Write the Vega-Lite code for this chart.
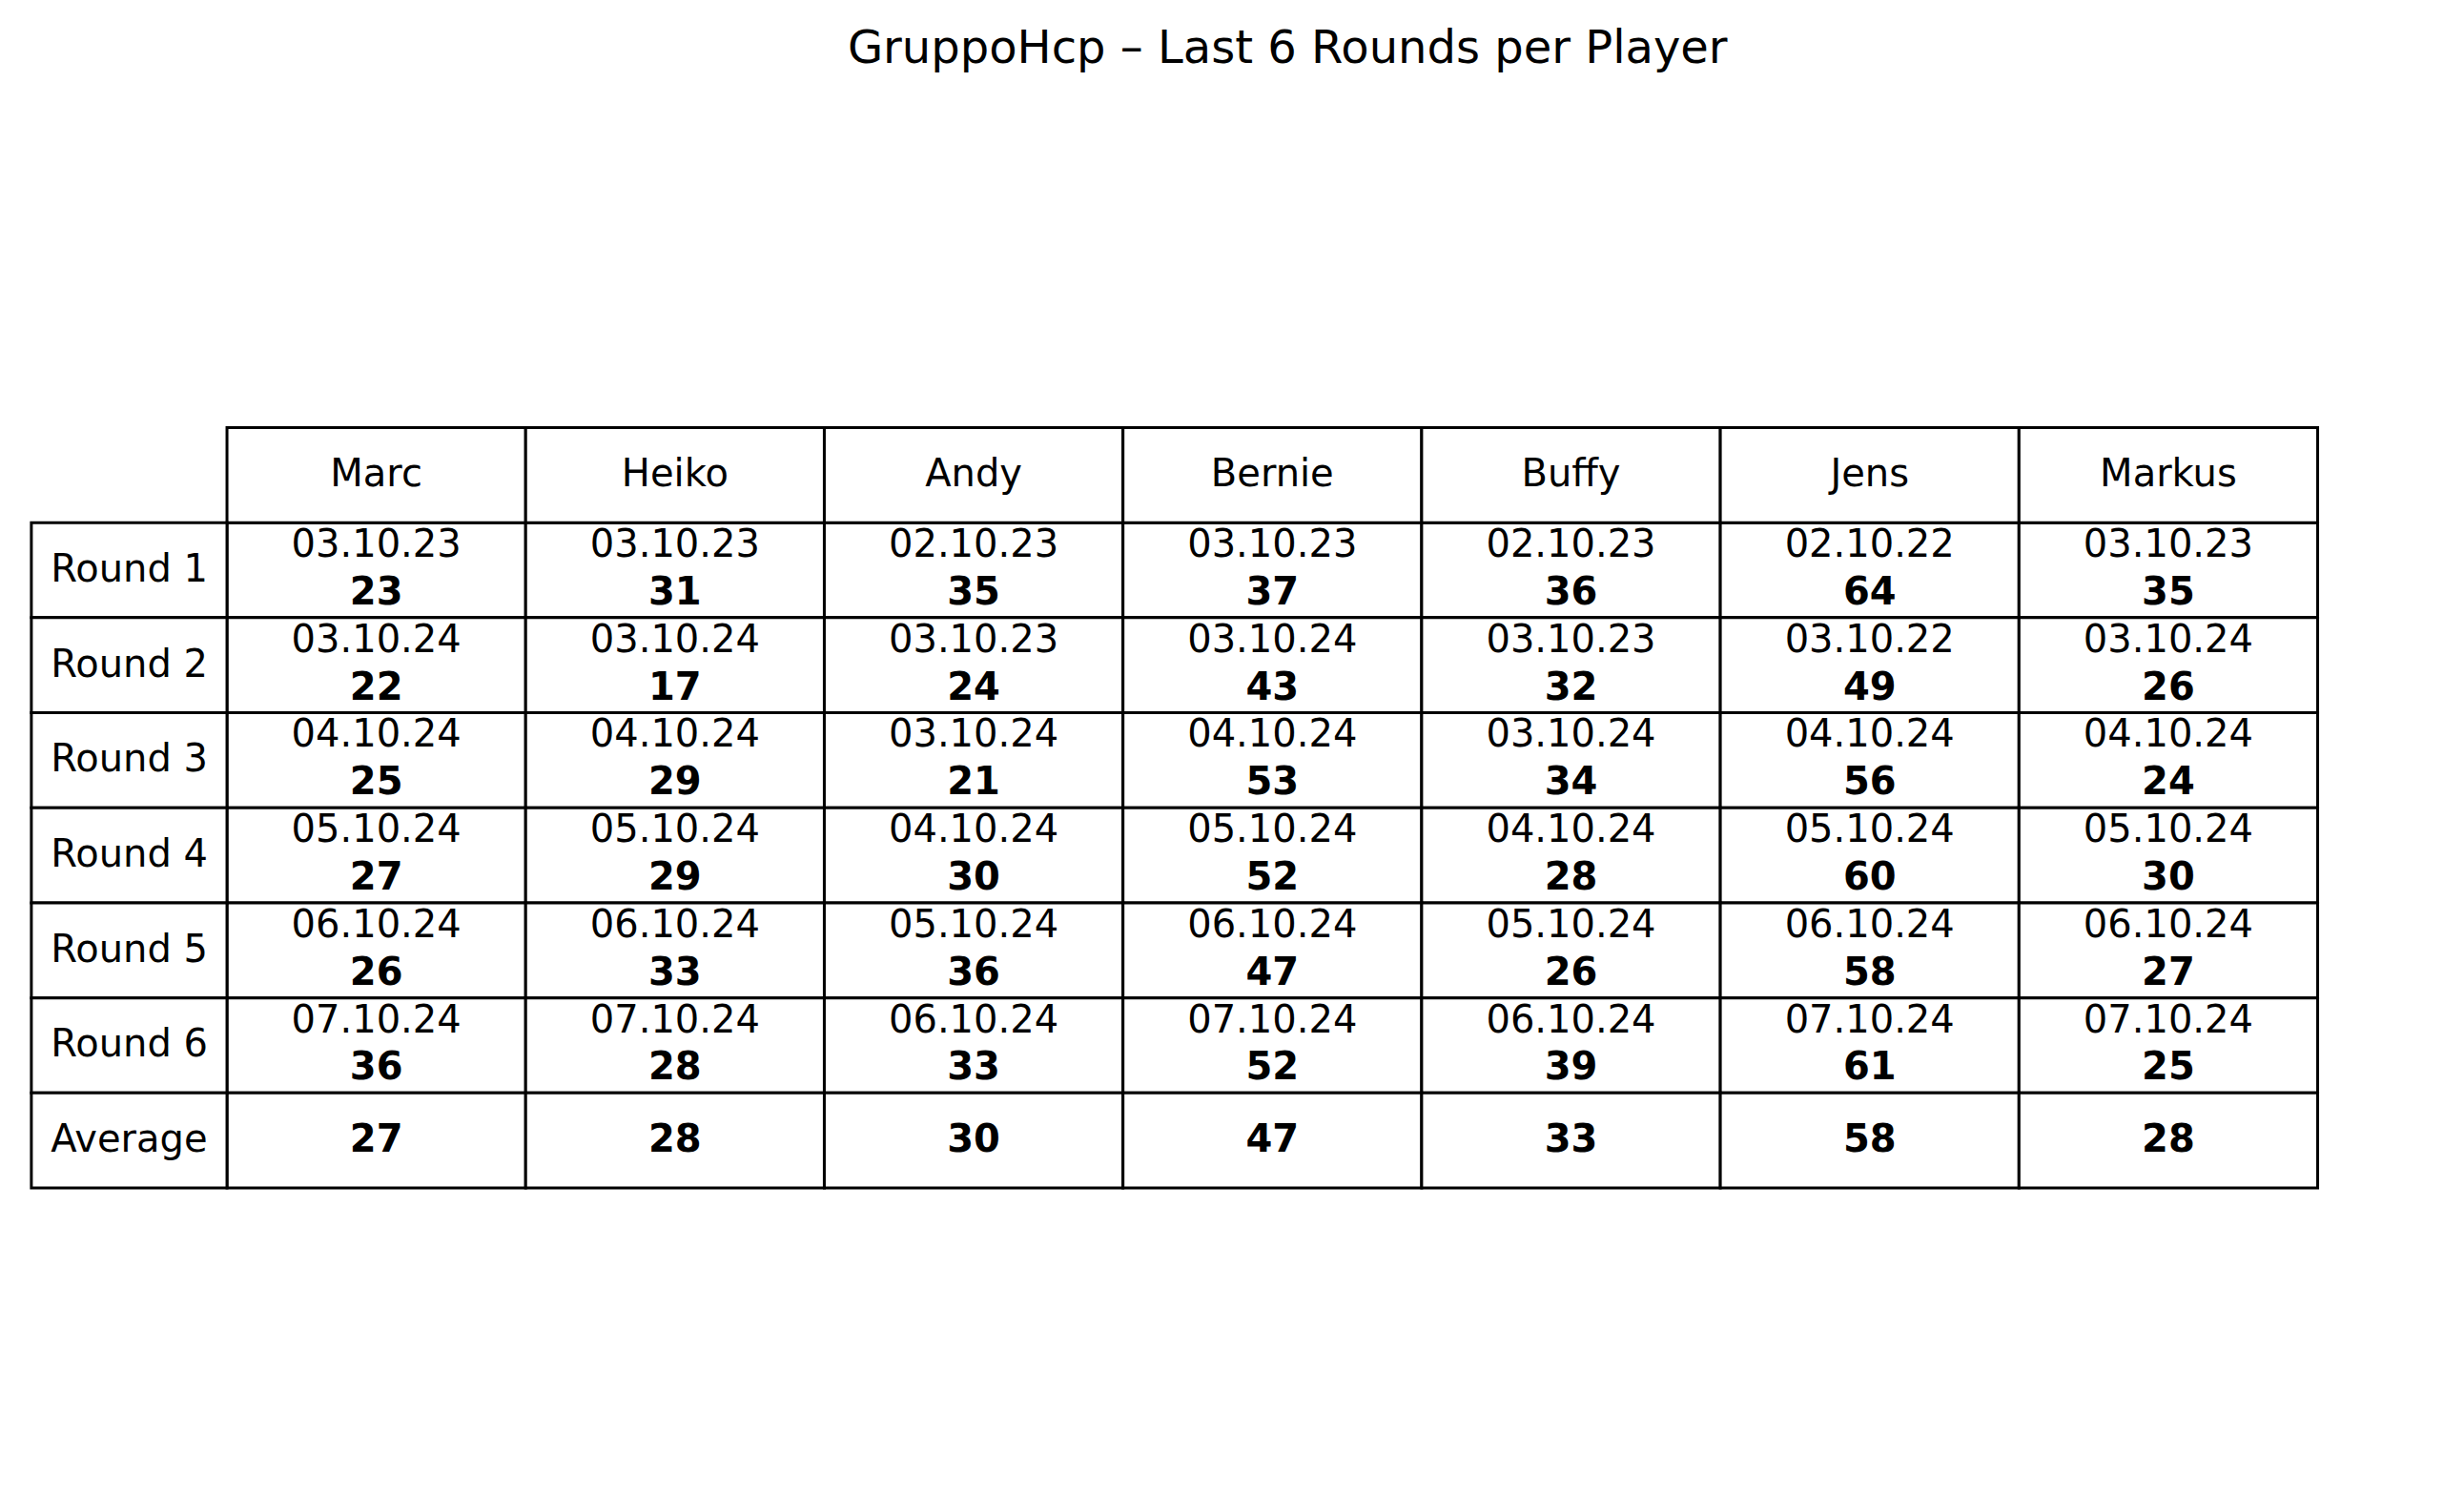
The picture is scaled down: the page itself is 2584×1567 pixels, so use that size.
{
  "$schema": "https://vega.github.io/schema/vega-lite/v6.json",
  "width": 2584,
  "height": 1567,
  "padding": 0,
  "autosize": {"type": "fit", "contains": "padding"},
  "background": "white",
  "config": {"view": {"stroke": null}, "font": "DejaVu Sans"},
  "datasets": {
    "scores": [
      {"player": "Marc", "col": 0, "row": 1, "date": "03.10.23", "score": 23},
      {"player": "Heiko", "col": 1, "row": 1, "date": "03.10.23", "score": 31},
      {"player": "Andy", "col": 2, "row": 1, "date": "02.10.23", "score": 35},
      {"player": "Bernie", "col": 3, "row": 1, "date": "03.10.23", "score": 37},
      {"player": "Buffy", "col": 4, "row": 1, "date": "02.10.23", "score": 36},
      {"player": "Jens", "col": 5, "row": 1, "date": "02.10.22", "score": 64},
      {"player": "Markus", "col": 6, "row": 1, "date": "03.10.23", "score": 35},
      {"player": "Marc", "col": 0, "row": 2, "date": "03.10.24", "score": 22},
      {"player": "Heiko", "col": 1, "row": 2, "date": "03.10.24", "score": 17},
      {"player": "Andy", "col": 2, "row": 2, "date": "03.10.23", "score": 24},
      {"player": "Bernie", "col": 3, "row": 2, "date": "03.10.24", "score": 43},
      {"player": "Buffy", "col": 4, "row": 2, "date": "03.10.23", "score": 32},
      {"player": "Jens", "col": 5, "row": 2, "date": "03.10.22", "score": 49},
      {"player": "Markus", "col": 6, "row": 2, "date": "03.10.24", "score": 26},
      {"player": "Marc", "col": 0, "row": 3, "date": "04.10.24", "score": 25},
      {"player": "Heiko", "col": 1, "row": 3, "date": "04.10.24", "score": 29},
      {"player": "Andy", "col": 2, "row": 3, "date": "03.10.24", "score": 21},
      {"player": "Bernie", "col": 3, "row": 3, "date": "04.10.24", "score": 53},
      {"player": "Buffy", "col": 4, "row": 3, "date": "03.10.24", "score": 34},
      {"player": "Jens", "col": 5, "row": 3, "date": "04.10.24", "score": 56},
      {"player": "Markus", "col": 6, "row": 3, "date": "04.10.24", "score": 24},
      {"player": "Marc", "col": 0, "row": 4, "date": "05.10.24", "score": 27},
      {"player": "Heiko", "col": 1, "row": 4, "date": "05.10.24", "score": 29},
      {"player": "Andy", "col": 2, "row": 4, "date": "04.10.24", "score": 30},
      {"player": "Bernie", "col": 3, "row": 4, "date": "05.10.24", "score": 52},
      {"player": "Buffy", "col": 4, "row": 4, "date": "04.10.24", "score": 28},
      {"player": "Jens", "col": 5, "row": 4, "date": "05.10.24", "score": 60},
      {"player": "Markus", "col": 6, "row": 4, "date": "05.10.24", "score": 30},
      {"player": "Marc", "col": 0, "row": 5, "date": "06.10.24", "score": 26},
      {"player": "Heiko", "col": 1, "row": 5, "date": "06.10.24", "score": 33},
      {"player": "Andy", "col": 2, "row": 5, "date": "05.10.24", "score": 36},
      {"player": "Bernie", "col": 3, "row": 5, "date": "06.10.24", "score": 47},
      {"player": "Buffy", "col": 4, "row": 5, "date": "05.10.24", "score": 26},
      {"player": "Jens", "col": 5, "row": 5, "date": "06.10.24", "score": 58},
      {"player": "Markus", "col": 6, "row": 5, "date": "06.10.24", "score": 27},
      {"player": "Marc", "col": 0, "row": 6, "date": "07.10.24", "score": 36},
      {"player": "Heiko", "col": 1, "row": 6, "date": "07.10.24", "score": 28},
      {"player": "Andy", "col": 2, "row": 6, "date": "06.10.24", "score": 33},
      {"player": "Bernie", "col": 3, "row": 6, "date": "07.10.24", "score": 52},
      {"player": "Buffy", "col": 4, "row": 6, "date": "06.10.24", "score": 39},
      {"player": "Jens", "col": 5, "row": 6, "date": "07.10.24", "score": 61},
      {"player": "Markus", "col": 6, "row": 6, "date": "07.10.24", "score": 25},
      {"player": "Marc", "col": 0, "row": 7, "date": "", "score": 27},
      {"player": "Heiko", "col": 1, "row": 7, "date": "", "score": 28},
      {"player": "Andy", "col": 2, "row": 7, "date": "", "score": 30},
      {"player": "Bernie", "col": 3, "row": 7, "date": "", "score": 47},
      {"player": "Buffy", "col": 4, "row": 7, "date": "", "score": 33},
      {"player": "Jens", "col": 5, "row": 7, "date": "", "score": 58},
      {"player": "Markus", "col": 6, "row": 7, "date": "", "score": 28}
    ],
    "rowLabels": [
      {"label": "Round 1", "row": 1},
      {"label": "Round 2", "row": 2},
      {"label": "Round 3", "row": 3},
      {"label": "Round 4", "row": 4},
      {"label": "Round 5", "row": 5},
      {"label": "Round 6", "row": 6},
      {"label": "Average", "row": 7}
    ],
    "headers": [
      {"player": "Marc", "col": 0},
      {"player": "Heiko", "col": 1},
      {"player": "Andy", "col": 2},
      {"player": "Bernie", "col": 3},
      {"player": "Buffy", "col": 4},
      {"player": "Jens", "col": 5},
      {"player": "Markus", "col": 6}
    ],
    "titles": [{"text": "GruppoHcp – Last 6 Rounds per Player", "cx": 3.551, "cy": -3.98}]
  },
  "layer": [
    {
      "data": {"name": "scores"},
      "transform": [
        {"calculate": "datum.col + 1", "as": "col2"},
        {"calculate": "datum.row + 1", "as": "row2"}
      ],
      "mark": {"type": "rect", "fill": "white", "stroke": "black", "strokeWidth": 3},
      "encoding": {
        "x": {"field": "col", "type": "quantitative", "scale": {"domain": [-0.76, 7.49], "nice": false, "zero": false}, "axis": null},
        "x2": {"field": "col2"},
        "y": {"field": "row", "type": "quantitative", "scale": {"domain": [-4.499, 11.22], "nice": false, "zero": false, "reverse": true}, "axis": null},
        "y2": {"field": "row2"}
      }
    },
    {
      "data": {"name": "headers"},
      "transform": [
        {"calculate": "datum.col + 1", "as": "col2"},
        {"calculate": "0", "as": "r0"},
        {"calculate": "1", "as": "r1"}
      ],
      "mark": {"type": "rect", "fill": "white", "stroke": "black", "strokeWidth": 3},
      "encoding": {
        "x": {"field": "col", "type": "quantitative"},
        "x2": {"field": "col2"},
        "y": {"field": "r0", "type": "quantitative"},
        "y2": {"field": "r1"}
      }
    },
    {
      "data": {"name": "rowLabels"},
      "transform": [
        {"calculate": "-0.655", "as": "c0"},
        {"calculate": "0", "as": "c1"},
        {"calculate": "datum.row + 1", "as": "row2"}
      ],
      "mark": {"type": "rect", "fill": "white", "stroke": "black", "strokeWidth": 3},
      "encoding": {
        "x": {"field": "c0", "type": "quantitative"},
        "x2": {"field": "c1"},
        "y": {"field": "row", "type": "quantitative"},
        "y2": {"field": "row2"}
      }
    },
    {
      "data": {"name": "headers"},
      "transform": [
        {"calculate": "datum.col + 0.5", "as": "cx"},
        {"calculate": "0.5", "as": "cy"}
      ],
      "mark": {"type": "text", "fontSize": 40, "align": "center", "baseline": "middle"},
      "encoding": {
        "x": {"field": "cx", "type": "quantitative"},
        "y": {"field": "cy", "type": "quantitative"},
        "text": {"field": "player"}
      }
    },
    {
      "data": {"name": "rowLabels"},
      "transform": [
        {"calculate": "-0.59", "as": "cx"},
        {"calculate": "datum.row + 0.5", "as": "cy"}
      ],
      "mark": {"type": "text", "fontSize": 40, "align": "left", "baseline": "middle"},
      "encoding": {
        "x": {"field": "cx", "type": "quantitative"},
        "y": {"field": "cy", "type": "quantitative"},
        "text": {"field": "label"}
      }
    },
    {
      "data": {"name": "scores"},
      "transform": [
        {"filter": "datum.date != ''"},
        {"calculate": "datum.col + 0.5", "as": "cx"},
        {"calculate": "datum.row + 0.24", "as": "cy"}
      ],
      "mark": {"type": "text", "fontSize": 40, "align": "center", "baseline": "middle"},
      "encoding": {
        "x": {"field": "cx", "type": "quantitative"},
        "y": {"field": "cy", "type": "quantitative"},
        "text": {"field": "date"}
      }
    },
    {
      "data": {"name": "scores"},
      "transform": [
        {"calculate": "datum.col + 0.5", "as": "cx"},
        {"calculate": "datum.row + (datum.date != '' ? 0.74 : 0.5)", "as": "cy"}
      ],
      "mark": {"type": "text", "fontSize": 40, "fontWeight": "bold", "align": "center", "baseline": "middle"},
      "encoding": {
        "x": {"field": "cx", "type": "quantitative"},
        "y": {"field": "cy", "type": "quantitative"},
        "text": {"field": "score"}
      }
    },
    {
      "data": {"name": "titles"},
      "mark": {"type": "text", "fontSize": 48, "align": "center", "baseline": "middle"},
      "encoding": {
        "x": {"field": "cx", "type": "quantitative"},
        "y": {"field": "cy", "type": "quantitative"},
        "text": {"field": "text"}
      }
    }
  ]
}
